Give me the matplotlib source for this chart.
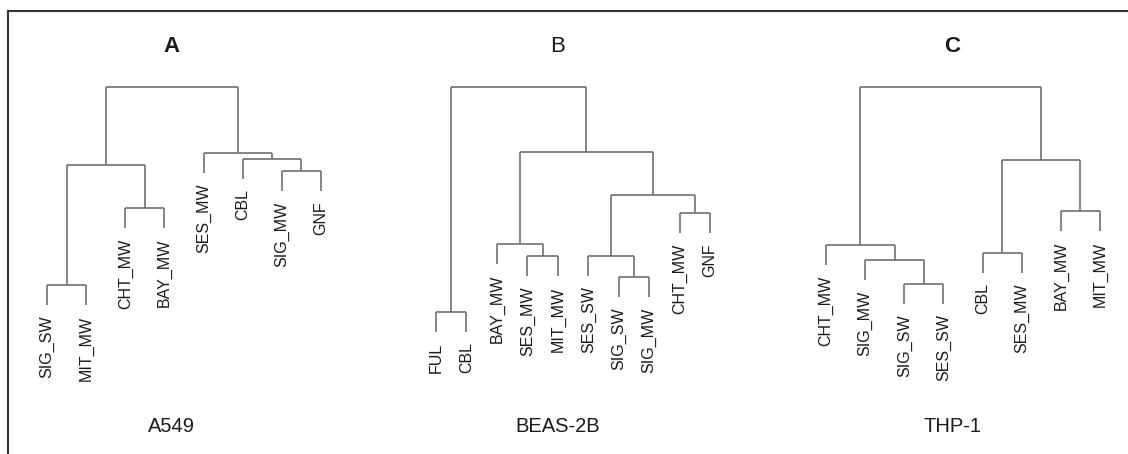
import matplotlib
matplotlib.use("Agg")
from matplotlib import pyplot as plt
from matplotlib.lines import Line2D

plt.rcParams["font.family"] = ["Liberation Sans", "DejaVu Sans"]

LINE = "#707070"
INK = "#1a1a1a"
HANG = 0.2

# leaf order as drawn, merges as (left, right, height); ids < n are leaves, n+k is merge k
A_LEAVES = ["SIG_SW", "MIT_MW", "CHT_MW", "BAY_MW", "SES_MW", "CBL", "SIG_MW", "GNF"]
A_MERGES = [(0, 1, 0.55), (2, 3, 1.32), (6, 7, 1.69), (5, 10, 1.81),
            (4, 11, 1.87), (8, 9, 1.75), (13, 12, 2.53)]

B_LEAVES = ["FUL", "CBL", "BAY_MW", "SES_MW", "MIT_MW", "SES_SW", "SIG_SW", "SIG_MW", "CHT_MW", "GNF"]
B_MERGES = [(0, 1, 0.28), (3, 4, 0.84), (2, 11, 0.96), (6, 7, 0.63), (5, 13, 0.84),
            (8, 9, 1.27), (14, 15, 1.45), (12, 16, 1.88), (10, 17, 2.53)]

C_LEAVES = ["CHT_MW", "SIG_MW", "SIG_SW", "SES_SW", "CBL", "SES_MW", "BAY_MW", "MIT_MW"]
C_MERGES = [(2, 3, 0.56), (1, 8, 0.80), (0, 9, 0.95), (4, 5, 0.87),
            (6, 7, 1.29), (11, 12, 1.80), (10, 13, 2.53)]

TITLES = ["A", "B", "C"]
TITLE_BOLD = [True, False, True]
CELLS = ["A549", "BEAS-2B", "THP-1"]


def draw_dendro(ax, leaves, merges):
    n = len(leaves)
    xs = {i: i + 1 for i in range(n)}
    hs = {}
    for k, (a, b, h) in enumerate(merges):
        node = n + k
        for c in (a, b):
            top = h
            if c < n:
                bottom = h - HANG
                hs[c] = bottom
            else:
                bottom = merges[c - n][2]
            ax.plot([xs[c], xs[c]], [bottom, top], color=LINE, lw=1.2,
                    solid_capstyle="butt", clip_on=False)
        ax.plot([xs[a], xs[b]], [h, h], color=LINE, lw=1.2,
                solid_capstyle="butt", clip_on=False)
        xs[node] = (xs[a] + xs[b]) / 2
    for i, name in enumerate(leaves):
        ax.annotate(name, (xs[i], hs[i]), xytext=(0, -7.5), textcoords="offset points",
                    rotation=90, ha="center", va="top", fontsize=11.5, color=INK)


W, H = 1128, 454
fig = plt.figure(figsize=(W / 100, H / 100), dpi=100)

# frame: top and left edge only
fig.add_artist(Line2D([8 / W, 1], [1 - 11 / H, 1 - 11 / H], color="#333333", lw=1.5))
fig.add_artist(Line2D([8 / W, 8 / W], [0, 1 - 11 / H], color="#333333", lw=1.5))

panels = [(47, 321, A_LEAVES, A_MERGES, 0.453),
          (436, 710, B_LEAVES, B_MERGES, 0.445),
          (826, 1100, C_LEAVES, C_MERGES, 0.46)]

for idx, (x0, x1, leaves, merges, tx) in enumerate(panels):
    ax = fig.add_axes([x0 / W, 1 - 340 / H, (x1 - x0) / W, 253 / H])
    ax.set_xlim(1, len(leaves))
    ax.set_ylim(0, 2.53)
    ax.axis("off")
    draw_dendro(ax, leaves, merges)
    ax.text(tx, 1 + 40 / 253, TITLES[idx], transform=ax.transAxes, ha="center", va="center",
            fontsize=16, fontweight="bold" if TITLE_BOLD[idx] else "normal", color=INK)
    ax.text(tx, -86 / 253, CELLS[idx], transform=ax.transAxes, ha="center", va="center",
            fontsize=14.5, color=INK)

fig.savefig("out.png", dpi=100)
